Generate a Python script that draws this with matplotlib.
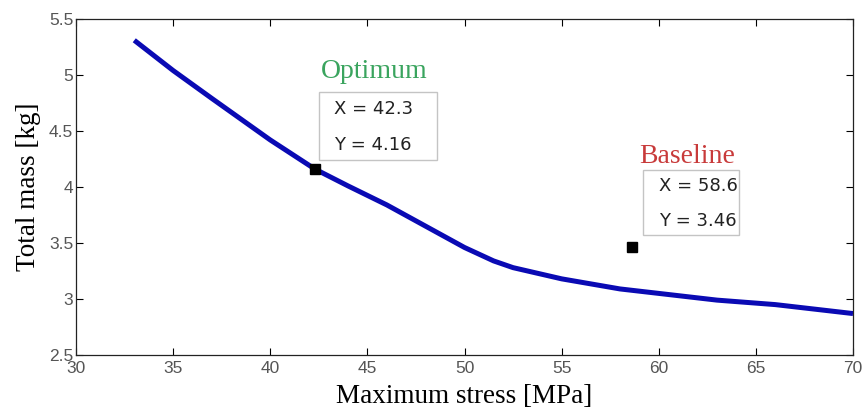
import matplotlib
matplotlib.use("Agg")
import matplotlib.pyplot as plt
from matplotlib.patches import Rectangle

# Data
stress = [33.0, 35.0, 37.0, 40.0, 42.3, 44.0, 46.0, 48.0, 50.0, 51.5, 52.5,
          55.0, 58.0, 60.0, 63.0, 66.0, 70.0]
mass = [5.31, 5.04, 4.79, 4.42, 4.16, 4.01, 3.84, 3.65, 3.46, 3.34, 3.28,
        3.18, 3.09, 3.05, 2.99, 2.95, 2.87]

opt_x, opt_y = 42.3, 4.16
base_x, base_y = 58.6, 3.46

xticks = [30, 35, 40, 45, 50, 55, 60, 65, 70]
yticks = [2.5, 3, 3.5, 4, 4.5, 5, 5.5]

fig = plt.figure(figsize=(8.66, 4.12), dpi=100)
ax = fig.add_axes([76 / 866, 1 - 355 / 412, (853 - 76) / 866, (355 - 19) / 412])

ax.plot(stress, mass, color="#0a0ab4", lw=3.6, solid_capstyle="butt",
        solid_joinstyle="round", zorder=2)
ax.plot([opt_x, base_x], [opt_y, base_y], ls="none", marker="s", ms=6.5,
        color="black", zorder=3)

ax.set_xlim(30, 70)
ax.set_ylim(2.5, 5.5)
ax.set_xticks(xticks)
ax.set_xticklabels([f"{t:g}" for t in xticks])
ax.set_yticks(yticks)
ax.set_yticklabels([f"{t:g}" for t in yticks])
ax.tick_params(direction="in", top=True, right=True, length=5, width=0.8,
               labelsize=12.5, labelcolor="#555555")
ax.tick_params(axis="x", pad=4)
ax.tick_params(axis="y", pad=2)
for lab in ax.get_xticklabels() + ax.get_yticklabels():
    lab.set_family("Liberation Sans")
for s in ax.spines.values():
    s.set_linewidth(0.9)
    s.set_color("#222222")

ax.set_xlabel("Maximum stress [MPa]", family="Liberation Serif", fontsize=19.5,
              labelpad=6)
ax.set_ylabel("Total mass [kg]", family="Liberation Serif", fontsize=19.5,
              labelpad=6)

# Data-tip boxes
def tip(px, py, title, tcolor, dx, dy, w, h, title_dy):
    bx, by = px + dx, py + dy
    ax.add_patch(Rectangle((bx, by - h), w, h, facecolor="white",
                           edgecolor="#c4c4c4", lw=1.0, zorder=4))
    ax.text(bx + 0.8, by - h * 0.25, f"X = {px:g}", family="DejaVu Sans",
            fontsize=13, color="#222222", va="center", ha="left", zorder=5)
    ax.text(bx + 0.8, by - h * 0.78, f"Y = {py:g}", family="DejaVu Sans",
            fontsize=13, color="#222222", va="center", ha="left", zorder=5)
    ax.text(bx + w / 2 - 0.2, by + title_dy, title, family="Liberation Serif",
            fontsize=20, color=tcolor, ha="center", va="center", zorder=5)

tip(opt_x, opt_y, "Optimum", "#3aa45e", 0.2, 0.69, 6.1, 0.61, 0.18)
tip(base_x, base_y, "Baseline", "#c83a3a", 0.6, 0.69, 4.95, 0.58, 0.12)

fig.savefig("out.png", dpi=100)
